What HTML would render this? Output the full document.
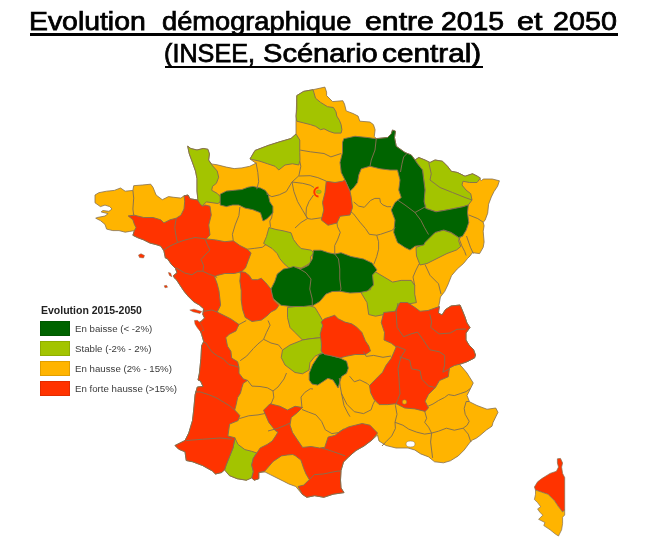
<!DOCTYPE html>
<html><head><meta charset="utf-8">
<style>
html,body{margin:0;padding:0;background:#fff;}
#wrap{position:absolute;left:0;top:0;width:646px;height:556px;filter:blur(0.35px);}
body{width:646px;height:556px;position:relative;overflow:hidden;font-family:"Liberation Sans",sans-serif;}
.w{position:absolute;font-weight:normal;font-size:25.1px;line-height:29px;color:#000;-webkit-text-stroke:0.75px #000;white-space:nowrap;transform-origin:0 50%;}
.t span{text-decoration:underline;text-decoration-thickness:2px;text-underline-offset:4px;display:inline-block;word-spacing:6.5px;transform:scaleX(1.11);transform-origin:50% 50%;}
svg{position:absolute;left:0;top:0;}
.lg{position:absolute;font-family:"Liberation Sans",sans-serif;color:#222;}
.lt{left:41px;top:304px;font-size:10.5px;font-weight:bold;}
.sw{position:absolute;left:40px;width:30px;height:15px;box-sizing:border-box;border:1px solid rgba(0,0,0,0.12);}
.lx{position:absolute;left:75px;font-size:9.7px;color:#3a3a3a;}
</style></head><body><div id="wrap">
<svg width="646" height="556" viewBox="0 0 646 556">
<polygon points="296.80,95.60 303.60,91.40 313.00,89.70 324.90,87.10 326.60,92.20 326.60,95.60 332.60,101.60 342.80,100.70 344.50,104.10 346.20,110.90 353.00,113.50 358.10,116.10 359.80,121.20 370.00,122.00 373.40,124.60 375.10,129.70 374.30,136.50 376.25,138.50 387.50,137.50 391.25,133.75 392.50,130.00 395.50,131.25 394.50,137.50 396.25,146.25 405.00,152.50 411.25,155.00 415.00,160.00 418.75,157.50 425.00,160.00 430.00,162.50 435.00,160.00 442.50,161.25 447.50,166.25 451.25,171.25 457.50,172.50 465.00,176.25 472.50,173.75 477.50,176.25 481.40,180.80 483.20,179.00 492.20,179.00 499.40,180.80 497.60,186.20 494.00,191.60 491.30,197.00 488.60,204.20 487.70,213.20 485.00,220.40 483.20,222.20 484.10,225.80 483.20,231.20 484.10,242.00 483.20,247.30 479.60,253.60 472.40,252.70 470.00,256.00 467.50,258.50 463.50,263.50 457.20,269.00 451.50,275.70 447.80,285.00 444.70,291.50 440.40,297.00 439.00,305.00 437.50,310.00 438.50,313.00 442.00,315.00 445.50,309.50 451.00,306.00 460.00,305.00 462.00,309.50 465.00,317.00 467.00,323.00 470.00,327.50 466.00,333.00 466.00,340.00 469.00,345.00 473.50,349.50 475.50,355.00 474.50,358.00 467.00,361.75 459.50,364.50 462.00,367.00 467.00,373.00 473.25,383.00 470.75,388.00 467.00,395.50 469.50,401.75 477.00,405.50 487.00,409.25 495.75,408.00 498.00,412.30 495.70,417.00 493.00,422.50 492.00,426.20 486.40,430.00 480.00,435.50 476.20,438.30 472.50,440.00 470.20,442.00 464.20,450.00 458.30,455.90 450.40,460.80 443.50,462.80 434.60,461.80 428.60,456.90 420.70,453.90 414.80,450.00 408.00,448.00 396.00,448.00 386.00,445.50 379.00,441.00 377.50,435.00 372.00,440.00 364.00,446.00 356.00,450.50 349.00,456.50 343.50,462.00 341.00,470.50 340.50,480.00 341.00,488.00 344.00,492.60 333.10,494.20 323.80,497.30 314.60,495.70 306.80,497.30 302.20,494.20 295.80,486.50 288.90,484.00 283.80,481.40 277.00,478.00 270.20,474.60 265.10,472.00 258.80,472.50 258.80,478.70 254.20,480.20 251.10,477.20 246.40,480.20 237.20,478.70 229.40,475.60 225.00,469.00 221.70,472.50 215.50,474.00 212.40,471.00 202.50,465.50 192.50,461.75 186.25,460.50 185.00,451.75 178.75,449.25 175.00,445.50 185.00,440.50 188.75,433.00 192.50,420.50 193.70,410.00 195.10,394.70 197.30,387.00 203.00,386.50 200.50,381.00 198.00,380.00 199.40,373.20 200.90,358.80 201.60,345.80 203.70,341.50 201.60,334.30 200.10,330.00 203.70,330.50 200.10,327.00 197.40,323.30 201.00,321.50 204.60,318.00 202.80,314.40 203.60,308.70 199.60,305.20 193.50,301.60 188.30,296.40 184.00,291.20 180.40,285.80 176.50,279.80 174.00,277.50 173.50,275.50 177.00,272.80 175.50,268.50 171.50,264.50 167.50,258.75 165.40,258.00 163.90,250.80 160.80,246.10 156.10,244.60 149.90,243.00 143.70,239.90 137.50,237.60 132.90,235.30 134.40,230.60 129.80,231.40 125.20,232.20 119.00,230.60 112.80,230.60 106.60,229.10 105.00,224.40 100.40,220.60 95.70,218.20 97.30,217.50 105.00,216.00 108.10,213.60 101.20,212.00 102.70,210.50 108.90,211.30 112.00,209.00 109.70,206.60 105.00,205.10 100.40,206.60 95.00,202.80 95.00,195.00 98.80,192.70 106.60,191.20 114.30,190.40 120.50,188.00 125.20,191.20 132.90,190.40 133.70,185.70 142.20,185.00 150.70,184.20 153.00,187.30 156.10,195.00 162.30,199.70 168.50,196.60 173.90,197.30 180.90,198.10 184.00,195.80 188.00,195.00 190.00,198.75 197.50,200.00 200.00,203.75 201.70,206.60 197.80,205.00 197.80,198.80 197.00,191.10 197.00,178.70 195.50,171.00 191.60,160.10 189.30,153.90 187.70,146.20 190.80,148.50 197.00,150.00 203.20,148.50 207.90,149.30 209.40,153.90 208.60,160.10 211.70,164.00 217.20,164.80 226.40,167.10 234.20,168.60 241.90,167.90 249.70,166.30 255.90,163.20 250.00,159.00 255.00,150.50 268.00,145.50 279.00,142.00 291.00,138.50 296.00,134.00 296.00,121.25" fill="#FFB400" stroke="#857050" stroke-width="0.8" stroke-linejoin="round"/>
<polygon points="296.80,95.60 303.60,91.40 313.00,89.70 313.80,92.20 315.50,98.20 320.60,102.40 327.50,106.70 333.40,107.50 336.00,111.80 336.80,116.10 339.40,120.30 341.10,124.60 341.90,129.70 341.10,133.10 334.30,133.10 329.20,131.40 324.00,128.80 320.60,129.70 315.50,126.30 310.40,124.60 303.60,122.90 296.80,121.20 296.00,116.10 296.80,109.20 296.80,102.40" fill="#A3C400" stroke="#857050" stroke-width="0.95" stroke-linejoin="round"/>
<polygon points="250.00,159.00 255.00,150.50 268.00,145.50 279.00,142.00 291.00,138.50 296.00,134.00 299.75,140.00 299.75,152.50 300.00,160.00 298.75,165.00 292.50,163.75 285.00,165.00 278.75,170.00 275.00,166.25 267.50,163.75 260.00,161.25" fill="#A3C400" stroke="#857050" stroke-width="0.95" stroke-linejoin="round"/>
<polygon points="187.70,146.20 190.80,148.50 197.00,150.00 203.20,148.50 207.90,149.30 209.40,153.90 208.60,160.10 211.70,164.80 217.20,171.00 218.70,177.20 216.40,183.30 212.50,186.40 211.70,190.30 217.20,193.40 221.00,197.30 220.20,201.90 217.90,203.50 206.30,201.90 201.70,206.60 197.80,205.00 197.80,198.80 197.00,191.10 197.00,178.70 195.50,171.00 191.60,160.10 189.30,153.90" fill="#A3C400" stroke="#857050" stroke-width="0.95" stroke-linejoin="round"/>
<polygon points="415.00,160.00 418.75,157.50 425.00,160.00 430.00,162.50 435.00,160.00 442.50,161.25 447.50,166.25 451.25,171.25 457.50,172.50 465.00,176.25 472.50,173.75 477.50,176.25 480.50,178.00 477.00,182.50 469.50,182.50 463.00,181.25 462.00,185.00 466.00,190.00 470.75,193.75 472.00,200.00 468.30,205.00 463.20,206.70 454.70,208.40 446.20,210.10 436.00,211.80 425.80,208.40 423.75,200.00 425.00,190.00 423.75,180.00 422.50,170.00 417.50,163.75" fill="#A3C400" stroke="#857050" stroke-width="0.95" stroke-linejoin="round"/>
<polygon points="416.00,247.50 423.75,244.50 425.50,240.00 430.00,236.00 436.00,232.00 443.00,230.00 450.50,232.50 458.00,237.00 460.75,236.50 458.50,240.50 460.75,246.50 456.50,250.00 447.00,253.50 436.00,259.00 427.00,263.50 420.00,265.00 416.50,256.00" fill="#A3C400" stroke="#857050" stroke-width="0.95" stroke-linejoin="round"/>
<polygon points="370.00,273.50 375.50,271.90 384.10,277.00 392.60,282.10 401.10,280.40 411.30,280.40 414.70,285.50 414.70,294.10 416.40,302.60 406.20,304.30 399.40,306.00 396.00,311.10 390.90,314.50 384.10,314.50 375.50,316.20 368.70,314.50 367.00,302.60 361.90,294.10 360.20,290.60 370.40,289.80 372.10,282.10" fill="#A3C400" stroke="#857050" stroke-width="0.95" stroke-linejoin="round"/>
<polygon points="287.50,307.50 297.50,306.25 307.50,305.00 315.00,307.50 318.75,313.75 323.75,322.50 321.25,330.00 322.50,337.50 310.00,338.75 302.50,340.00 295.00,332.50 290.00,327.50 287.50,317.50" fill="#A3C400" stroke="#857050" stroke-width="0.95" stroke-linejoin="round"/>
<polygon points="302.50,340.00 310.00,338.75 322.50,337.50 321.25,345.00 322.50,352.50 315.00,356.25 310.00,362.50 309.00,370.00 302.50,373.75 295.00,372.50 285.00,365.00 281.25,357.50 282.50,350.00 290.00,345.00" fill="#A3C400" stroke="#857050" stroke-width="0.95" stroke-linejoin="round"/>
<polygon points="234.70,437.70 238.10,444.50 244.90,449.60 251.70,451.30 256.80,453.00 253.40,458.10 251.70,464.90 253.40,471.70 251.70,478.00 246.40,480.20 237.20,478.70 229.40,475.60 224.50,470.00 226.20,464.90 229.60,456.40 233.00,447.90 234.70,439.40" fill="#A3C400" stroke="#857050" stroke-width="0.95" stroke-linejoin="round"/>
<polygon points="269.00,227.50 276.00,229.50 283.00,230.75 291.00,232.75 293.50,239.50 297.70,245.10 301.10,248.50 311.30,250.20 313.90,252.80 310.40,257.00 311.30,262.10 306.20,265.50 301.10,268.10 296.00,267.20 289.20,268.10 284.10,263.80 279.80,258.70 277.20,253.60 272.10,248.50 263.60,243.40 266.50,236.50" fill="#A3C400" stroke="#857050" stroke-width="0.95" stroke-linejoin="round"/>
<polygon points="343.75,138.75 355.00,136.25 367.50,137.50 376.25,138.75 387.50,137.50 391.25,133.75 392.50,130.00 395.50,131.25 394.50,137.50 396.25,146.25 405.00,152.50 411.25,155.00 415.00,160.00 417.50,163.75 422.50,170.00 423.75,180.00 425.00,190.00 424.10,201.60 425.80,208.40 436.00,211.80 446.20,210.10 454.70,208.40 463.20,206.70 468.30,205.00 467.50,212.50 468.75,222.50 466.25,230.00 462.50,236.25 458.75,237.50 451.25,232.50 443.75,230.00 435.00,232.50 430.00,237.50 425.00,242.50 423.75,245.00 415.00,246.25 410.00,250.00 405.00,247.50 397.50,242.50 393.75,232.50 395.00,220.00 391.25,210.00 395.00,202.50 401.25,197.50 398.75,190.00 400.00,180.00 397.50,170.00 390.00,170.00 380.00,168.75 370.00,166.25 361.25,168.75 358.75,175.00 357.50,182.50 353.75,187.50 350.00,191.25 345.00,180.00 341.25,172.50 340.00,162.50 342.50,152.50 342.50,142.50" fill="#006400" stroke="#857050" stroke-width="0.95" stroke-linejoin="round"/>
<polygon points="220.20,194.20 226.40,191.10 234.20,190.30 241.90,189.50 248.10,187.20 252.80,186.40 260.50,188.00 265.10,190.30 268.20,194.20 269.80,201.90 272.90,206.60 272.90,212.80 269.80,215.90 266.70,219.00 263.00,221.00 261.50,216.00 260.50,212.80 252.80,209.70 245.00,208.10 238.80,205.00 232.60,205.00 226.40,206.60 220.20,205.00" fill="#006400" stroke="#857050" stroke-width="0.95" stroke-linejoin="round"/>
<polygon points="293.50,266.50 299.75,269.00 303.50,267.75 308.50,265.25 312.25,259.00 313.50,250.25 321.00,250.25 328.50,252.75 334.75,254.00 341.00,252.75 351.00,256.50 363.50,259.00 372.00,263.00 377.00,270.00 372.50,275.00 373.50,285.00 367.50,291.00 360.00,292.50 350.00,293.00 340.00,291.25 332.25,291.50 326.00,294.00 319.75,301.50 313.50,305.25 303.50,306.50 291.00,306.50 281.00,305.25 272.25,297.75 271.00,289.00 274.75,281.50 277.25,274.00 283.50,269.00 289.75,267.75" fill="#006400" stroke="#857050" stroke-width="0.95" stroke-linejoin="round"/>
<polygon points="316.00,359.60 319.40,354.50 324.50,352.80 333.00,356.20 339.80,357.90 346.60,361.30 348.30,368.10 346.60,373.20 341.50,376.60 339.80,381.70 338.10,388.00 333.00,380.00 327.90,378.30 322.80,381.70 317.70,385.10 312.00,384.00 309.20,380.00 309.20,373.20 312.60,364.70" fill="#006400" stroke="#857050" stroke-width="0.95" stroke-linejoin="round"/>
<polygon points="128.20,215.90 134.40,215.20 143.70,217.50 153.00,217.50 160.80,219.80 163.90,222.90 170.00,219.80 176.20,218.20 180.90,215.20 184.00,209.00 184.70,201.20 184.00,195.80 188.00,195.00 190.00,198.75 197.50,200.00 200.00,203.75 202.50,206.25 205.00,205.00 210.00,206.25 211.25,215.00 208.75,225.00 210.00,235.00 206.20,238.90 215.60,239.90 224.90,241.70 233.30,240.80 239.90,245.50 247.30,249.20 251.10,252.90 248.30,260.40 245.50,267.90 241.70,271.60 234.30,273.50 224.90,273.50 217.40,275.40 214.50,276.60 217.20,283.80 219.00,291.00 220.60,305.30 217.20,312.10 224.10,315.50 230.90,318.90 236.00,322.40 239.00,324.50 237.50,327.50 236.00,330.90 229.20,334.30 225.80,337.70 227.50,346.20 230.90,351.30 231.70,358.10 237.60,361.70 239.00,367.40 239.00,373.20 243.30,378.90 247.60,380.40 243.30,383.20 241.90,387.60 240.40,393.30 237.60,397.60 236.10,404.80 234.70,410.00 239.80,415.50 238.10,420.60 229.60,424.10 227.90,436.00 234.70,437.70 234.70,439.40 233.00,447.90 229.60,456.40 226.20,464.90 224.50,470.00 221.70,472.50 215.50,474.00 212.40,471.00 202.50,465.50 192.50,461.75 186.25,460.50 185.00,451.75 178.75,449.25 175.00,445.50 185.00,440.50 188.75,433.00 192.50,420.50 193.70,410.00 195.10,394.70 197.30,387.00 203.00,386.50 200.50,381.00 198.00,380.00 199.40,373.20 200.90,358.80 201.60,345.80 203.70,341.50 201.60,334.30 200.10,330.00 203.70,330.50 200.10,327.00 197.40,323.30 201.00,321.50 204.60,318.00 202.80,314.40 203.60,308.70 199.60,305.20 193.50,301.60 188.30,296.40 184.00,291.20 180.40,285.80 176.50,279.80 174.00,277.50 173.50,275.50 177.00,272.80 175.50,268.50 171.50,264.50 167.50,258.75 165.40,258.00 163.90,250.80 160.80,246.10 156.10,244.60 149.90,243.00 143.70,239.90 137.50,237.60 132.90,235.30 134.40,230.60 136.00,227.50 134.40,224.40 132.90,219.80" fill="#FF3300" stroke="#857050" stroke-width="0.95" stroke-linejoin="round"/>
<polygon points="239.80,271.60 245.20,272.30 249.30,275.60 252.00,279.70 257.40,279.70 261.40,278.30 265.50,282.40 270.90,289.10 272.20,294.50 273.60,299.90 278.90,305.30 276.20,309.30 270.90,312.00 266.80,316.10 261.40,320.10 252.00,321.50 245.20,317.40 242.50,309.30 241.20,299.90 241.20,290.50 239.80,281.00 240.50,274.30" fill="#FF3300" stroke="#857050" stroke-width="0.95" stroke-linejoin="round"/>
<polygon points="326.25,181.25 335.00,182.50 342.50,181.25 345.00,180.00 350.00,191.25 351.25,197.50 352.50,207.50 350.00,215.00 340.00,216.25 337.00,223.00 328.00,225.25 321.25,220.00 323.75,210.00 322.50,202.50 325.00,192.50" fill="#FF3300" stroke="#857050" stroke-width="0.95" stroke-linejoin="round"/>
<polygon points="383.75,312.50 395.00,311.25 400.00,302.50 407.50,302.50 415.00,307.50 420.00,311.25 428.00,310.50 435.00,308.00 439.50,306.50 438.50,313.00 442.00,315.00 445.50,309.50 451.00,306.00 460.00,305.00 462.00,309.50 465.00,317.00 467.00,323.00 470.00,327.50 466.00,333.00 466.00,340.00 469.00,345.00 473.50,349.50 475.50,355.00 474.50,358.00 467.00,361.75 459.50,364.25 454.50,365.50 449.50,368.00 448.25,376.75 439.50,380.50 435.40,387.60 428.50,394.40 425.10,401.20 428.50,408.00 425.10,411.40 414.90,408.90 404.70,408.00 396.20,403.70 387.70,404.60 379.20,404.60 374.10,399.50 370.60,392.70 369.50,385.50 375.80,379.10 382.60,372.20 386.00,365.40 391.10,358.60 394.00,352.00 396.10,347.00 391.40,343.30 384.00,340.00 384.50,332.50 381.25,322.50" fill="#FF3300" stroke="#857050" stroke-width="0.95" stroke-linejoin="round"/>
<polygon points="321.10,322.10 324.50,318.70 329.60,317.00 334.70,315.30 338.10,318.70 344.90,322.10 351.70,323.80 356.80,327.20 361.90,332.40 365.40,340.90 368.80,346.00 370.50,351.10 365.40,354.50 355.10,354.50 346.60,356.20 339.80,357.90 333.00,356.20 324.50,354.50 321.10,351.10 321.50,345.00 321.10,340.90 320.20,334.10 322.80,325.50" fill="#FF3300" stroke="#857050" stroke-width="0.95" stroke-linejoin="round"/>
<polygon points="263.75,410.00 270.00,403.75 280.00,406.25 287.50,410.00 295.00,406.25 302.50,407.50 297.50,412.50 291.25,417.50 290.00,425.00 292.50,432.50 297.50,440.00 302.60,447.40 311.10,446.50 319.60,448.00 324.70,447.40 328.10,437.10 334.90,435.40 341.70,430.30 348.50,426.90 355.40,425.20 362.20,423.50 370.00,425.20 377.50,433.00 372.00,440.00 364.00,446.00 356.00,450.50 349.00,456.50 343.50,462.00 341.00,470.50 340.50,480.00 341.00,488.00 344.00,492.60 333.10,494.20 323.80,497.30 314.60,495.70 306.80,497.30 302.20,494.20 298.00,486.50 303.70,485.10 309.30,479.60 306.00,474.00 303.70,468.40 300.90,460.10 295.00,455.50 292.60,454.50 287.20,455.00 281.40,455.90 273.10,461.50 264.70,471.20 258.80,472.50 258.80,478.70 254.20,480.20 251.70,478.00 253.40,471.70 251.70,464.90 253.40,458.10 256.80,453.00 260.20,447.90 267.10,444.50 272.20,441.10 275.60,436.00 278.00,432.00 275.60,430.90 268.80,422.40 263.60,410.40" fill="#FF3300" stroke="#857050" stroke-width="0.95" stroke-linejoin="round"/>
<polyline points="300.20,150.10 310.40,151.80 324.00,153.50 330.90,156.90 341.10,153.50" fill="none" stroke="#857050" stroke-width="0.95" stroke-linejoin="round"/>
<polyline points="298.90,176.00 310.20,175.70 317.80,177.60 326.00,181.00" fill="none" stroke="#857050" stroke-width="0.95" stroke-linejoin="round"/>
<polyline points="299.80,161.20 300.80,166.30 298.90,175.70 292.00,182.00" fill="none" stroke="#857050" stroke-width="0.95" stroke-linejoin="round"/>
<polyline points="256.00,162.50 257.80,172.40 258.70,181.70 256.80,189.20" fill="none" stroke="#857050" stroke-width="0.95" stroke-linejoin="round"/>
<polyline points="266.25,193.75 271.80,196.70 279.30,194.80 286.30,191.50 292.00,182.00" fill="none" stroke="#857050" stroke-width="0.95" stroke-linejoin="round"/>
<polyline points="292.00,182.00 293.90,191.50 297.60,201.60 302.70,210.40 307.50,218.50" fill="none" stroke="#857050" stroke-width="0.95" stroke-linejoin="round"/>
<polyline points="292.00,182.00 302.70,183.30 310.20,185.20 314.00,187.50" fill="none" stroke="#857050" stroke-width="0.95" stroke-linejoin="round"/>
<polyline points="313.50,195.00 309.00,201.60 306.40,207.90 306.00,215.40 307.50,218.50" fill="none" stroke="#857050" stroke-width="0.95" stroke-linejoin="round"/>
<polyline points="307.50,218.50 311.50,219.20 320.30,217.90 322.00,218.00" fill="none" stroke="#857050" stroke-width="0.95" stroke-linejoin="round"/>
<polyline points="307.50,218.50 301.00,222.50 295.00,228.00" fill="none" stroke="#857050" stroke-width="0.95" stroke-linejoin="round"/>
<polyline points="272.50,212.50 271.60,218.00 269.80,221.00 270.50,226.80" fill="none" stroke="#857050" stroke-width="0.95" stroke-linejoin="round"/>
<polyline points="239.90,207.00 238.90,215.60 235.20,224.90 232.40,234.30 233.30,240.80" fill="none" stroke="#857050" stroke-width="0.95" stroke-linejoin="round"/>
<polyline points="247.30,249.20 254.80,248.30 262.30,247.30 266.00,244.50" fill="none" stroke="#857050" stroke-width="0.95" stroke-linejoin="round"/>
<polyline points="132.90,190.40 133.70,198.10 132.90,209.00 133.70,215.20" fill="none" stroke="#857050" stroke-width="0.95" stroke-linejoin="round"/>
<polyline points="176.20,218.20 174.70,227.50 176.20,237.00 177.50,242.50" fill="none" stroke="#857050" stroke-width="0.95" stroke-linejoin="round"/>
<polyline points="205.00,238.75 195.00,237.50 185.00,240.00 177.50,242.50" fill="none" stroke="#857050" stroke-width="0.95" stroke-linejoin="round"/>
<polyline points="177.50,242.50 170.00,246.00 163.75,250.00" fill="none" stroke="#857050" stroke-width="0.95" stroke-linejoin="round"/>
<polyline points="205.00,238.75 207.50,245.00 210.00,250.00 205.00,255.00 201.00,259.50 203.70,265.80 202.80,271.20" fill="none" stroke="#857050" stroke-width="0.95" stroke-linejoin="round"/>
<polyline points="175.80,267.60 184.80,273.00 192.00,274.80 197.40,271.20 202.80,271.20" fill="none" stroke="#857050" stroke-width="0.95" stroke-linejoin="round"/>
<polyline points="202.80,271.20 208.20,273.90 213.60,275.70 217.20,277.50" fill="none" stroke="#857050" stroke-width="0.95" stroke-linejoin="round"/>
<polyline points="203.60,311.30 211.80,310.00 217.20,312.10" fill="none" stroke="#857050" stroke-width="0.95" stroke-linejoin="round"/>
<polyline points="203.70,342.00 205.90,343.00 211.70,351.60 217.40,355.90 223.20,358.80 228.90,364.50 234.70,366.00 239.00,367.40" fill="none" stroke="#857050" stroke-width="0.95" stroke-linejoin="round"/>
<polyline points="195.00,392.00 200.10,391.90 208.80,394.70 216.00,397.60 223.20,401.90 230.40,406.30 234.70,410.00" fill="none" stroke="#857050" stroke-width="0.95" stroke-linejoin="round"/>
<polyline points="186.25,440.50 202.50,439.25 220.00,438.00 232.50,439.25" fill="none" stroke="#857050" stroke-width="0.95" stroke-linejoin="round"/>
<polyline points="239.00,324.50 246.20,320.60" fill="none" stroke="#857050" stroke-width="0.95" stroke-linejoin="round"/>
<polyline points="322.00,448.00 333.20,451.60 345.10,455.90" fill="none" stroke="#857050" stroke-width="0.95" stroke-linejoin="round"/>
<polyline points="309.30,479.60 314.50,474.60 323.20,474.00 337.10,471.20 341.00,471.00" fill="none" stroke="#857050" stroke-width="0.95" stroke-linejoin="round"/>
<polyline points="268.00,431.00 277.00,428.60 285.50,425.20 290.00,423.00" fill="none" stroke="#857050" stroke-width="0.95" stroke-linejoin="round"/>
<polyline points="268.00,320.50 270.10,325.20 266.40,332.70 263.60,339.30 258.00,343.90 253.30,348.60 246.70,356.10 240.20,360.70" fill="none" stroke="#857050" stroke-width="0.95" stroke-linejoin="round"/>
<polyline points="263.60,339.30 271.00,343.00 278.50,344.90 282.20,349.50" fill="none" stroke="#857050" stroke-width="0.95" stroke-linejoin="round"/>
<polyline points="247.60,380.40 251.90,386.10 260.00,386.50 267.40,387.80 273.00,391.00 278.00,387.00 284.00,379.00 286.50,373.00" fill="none" stroke="#857050" stroke-width="0.95" stroke-linejoin="round"/>
<polyline points="273.00,391.00 273.80,397.20 271.00,404.00" fill="none" stroke="#857050" stroke-width="0.95" stroke-linejoin="round"/>
<polyline points="239.30,418.60 248.70,415.80 258.00,414.90 265.00,413.50" fill="none" stroke="#857050" stroke-width="0.95" stroke-linejoin="round"/>
<polyline points="302.00,408.00 301.00,397.10 304.80,392.40 310.40,388.70 313.00,389.00" fill="none" stroke="#857050" stroke-width="0.95" stroke-linejoin="round"/>
<polyline points="302.00,409.50 308.50,412.10 316.00,414.90 321.60,421.40 325.30,429.80 331.90,433.60 338.40,432.60 344.00,428.90" fill="none" stroke="#857050" stroke-width="0.95" stroke-linejoin="round"/>
<polyline points="339.30,378.00 340.30,386.80 342.10,396.20 344.00,405.50 347.80,413.00 350.00,416.70" fill="none" stroke="#857050" stroke-width="0.95" stroke-linejoin="round"/>
<polyline points="349.60,376.20 354.30,381.80 359.90,379.90 367.40,383.60 369.30,385.50" fill="none" stroke="#857050" stroke-width="0.95" stroke-linejoin="round"/>
<polyline points="341.20,393.00 346.80,404.20 354.30,411.70 363.60,413.60 371.10,409.80 373.00,404.20 374.90,400.50" fill="none" stroke="#857050" stroke-width="0.95" stroke-linejoin="round"/>
<polyline points="395.40,405.50 397.00,414.30 395.00,422.30 395.40,428.50 391.70,436.00 386.10,441.60 382.00,446.00" fill="none" stroke="#857050" stroke-width="0.95" stroke-linejoin="round"/>
<polyline points="395.00,422.30 402.90,425.20 408.80,429.20 416.80,432.20 424.70,434.10 431.60,433.10" fill="none" stroke="#857050" stroke-width="0.95" stroke-linejoin="round"/>
<polyline points="424.70,411.40 426.70,418.30 424.70,422.30 428.60,427.20 431.60,433.10" fill="none" stroke="#857050" stroke-width="0.95" stroke-linejoin="round"/>
<polyline points="431.60,433.10 430.60,442.00 431.60,450.00 432.60,457.90" fill="none" stroke="#857050" stroke-width="0.95" stroke-linejoin="round"/>
<polyline points="463.20,428.20 454.30,430.20 446.40,428.20 438.50,431.20 431.60,433.10" fill="none" stroke="#857050" stroke-width="0.95" stroke-linejoin="round"/>
<polyline points="469.20,401.50 466.20,401.50 464.20,408.40 465.20,414.30 469.20,421.30 467.20,425.20 463.20,428.20" fill="none" stroke="#857050" stroke-width="0.95" stroke-linejoin="round"/>
<polyline points="463.20,428.20 468.20,434.10 470.20,440.10 471.00,442.00" fill="none" stroke="#857050" stroke-width="0.95" stroke-linejoin="round"/>
<polyline points="427.60,406.40 433.00,404.00 438.50,400.50 444.50,397.50 448.40,394.60 454.30,395.60 460.30,393.60 466.20,391.60 470.20,388.60" fill="none" stroke="#857050" stroke-width="0.95" stroke-linejoin="round"/>
<polyline points="398.00,303.00 396.10,312.40 397.10,327.40 403.60,336.70" fill="none" stroke="#857050" stroke-width="0.95" stroke-linejoin="round"/>
<polyline points="403.60,336.70 411.10,333.90 417.60,332.10 422.30,338.60 426.00,344.20 429.80,349.80" fill="none" stroke="#857050" stroke-width="0.95" stroke-linejoin="round"/>
<polyline points="429.80,314.30 431.60,321.80 430.70,327.40" fill="none" stroke="#857050" stroke-width="0.95" stroke-linejoin="round"/>
<polyline points="430.70,327.40 439.10,333.90 450.30,333.00 456.90,329.30 466.00,329.00" fill="none" stroke="#857050" stroke-width="0.95" stroke-linejoin="round"/>
<polyline points="429.80,349.80 439.10,351.70 444.70,355.40 444.70,364.80 442.90,372.20 449.00,369.00" fill="none" stroke="#857050" stroke-width="0.95" stroke-linejoin="round"/>
<polyline points="399.60,356.90 409.80,360.30 411.50,368.80 420.00,370.50 421.70,379.10 428.50,385.90 435.40,387.60" fill="none" stroke="#857050" stroke-width="0.95" stroke-linejoin="round"/>
<polyline points="400.80,357.30 398.00,368.50 398.90,377.90 400.00,394.00 395.40,405.50" fill="none" stroke="#857050" stroke-width="0.95" stroke-linejoin="round"/>
<polyline points="396.10,346.10 405.50,349.80 400.80,357.30" fill="none" stroke="#857050" stroke-width="0.95" stroke-linejoin="round"/>
<polyline points="363.50,351.50 366.20,356.40 373.70,355.40 383.00,357.30 391.00,356.00" fill="none" stroke="#857050" stroke-width="0.95" stroke-linejoin="round"/>
<polyline points="353.80,202.00 358.70,206.10 364.30,207.30 370.50,200.50 374.80,198.40 379.80,198.40 380.40,202.40 382.90,204.90 387.20,206.70 391.00,206.70" fill="none" stroke="#857050" stroke-width="0.95" stroke-linejoin="round"/>
<polyline points="351.00,212.00 353.40,213.70 359.90,222.10 365.50,228.60 369.30,234.30 376.70,235.20" fill="none" stroke="#857050" stroke-width="0.95" stroke-linejoin="round"/>
<polyline points="376.70,235.20 380.50,234.30 386.10,232.40 391.70,230.50 395.40,227.70" fill="none" stroke="#857050" stroke-width="0.95" stroke-linejoin="round"/>
<polyline points="337.00,223.00 337.50,226.80 340.30,232.40 337.50,239.90 334.70,245.50 334.75,254.00" fill="none" stroke="#857050" stroke-width="0.95" stroke-linejoin="round"/>
<polyline points="376.70,235.20 378.60,241.70 378.60,249.20 376.70,256.70 373.90,264.20" fill="none" stroke="#857050" stroke-width="0.95" stroke-linejoin="round"/>
<polyline points="419.00,264.00 416.00,270.00 413.00,277.00 414.70,285.50" fill="none" stroke="#857050" stroke-width="0.95" stroke-linejoin="round"/>
<polyline points="425.00,264.50 430.00,275.30 438.50,283.80 441.00,294.00" fill="none" stroke="#857050" stroke-width="0.95" stroke-linejoin="round"/>
<polyline points="468.80,215.00 477.80,218.60 483.20,222.20" fill="none" stroke="#857050" stroke-width="0.95" stroke-linejoin="round"/>
<polyline points="458.90,238.00 461.80,245.80 464.70,251.50 466.10,255.50" fill="none" stroke="#857050" stroke-width="0.95" stroke-linejoin="round"/>
<polyline points="466.50,236.00 470.40,247.20 473.30,253.50" fill="none" stroke="#857050" stroke-width="0.95" stroke-linejoin="round"/>
<polyline points="428.75,162.50 431.25,173.75 430.00,180.00 440.00,187.50 452.50,192.50 465.00,197.50 472.00,200.00" fill="none" stroke="#857050" stroke-width="0.95" stroke-linejoin="round"/>
<polyline points="376.25,138.75 375.00,150.00 371.25,160.00 370.00,166.25" fill="none" stroke="#857050" stroke-width="0.95" stroke-linejoin="round"/>
<polyline points="407.00,153.50 403.60,157.00 401.90,164.20 400.50,172.00" fill="none" stroke="#857050" stroke-width="0.95" stroke-linejoin="round"/>
<polyline points="397.50,200.00 405.00,205.00 415.00,212.50 426.25,206.25" fill="none" stroke="#857050" stroke-width="0.95" stroke-linejoin="round"/>
<polyline points="415.00,212.50 420.90,220.40 424.30,227.20 428.50,234.50" fill="none" stroke="#857050" stroke-width="0.95" stroke-linejoin="round"/>
<polyline points="299.75,269.00 306.00,272.75 311.00,279.00 309.75,289.00 312.25,299.00 312.25,305.25" fill="none" stroke="#857050" stroke-width="0.95" stroke-linejoin="round"/>
<polyline points="334.75,254.00 338.50,259.00 339.75,269.00 339.75,279.00 341.00,289.00 340.00,291.25" fill="none" stroke="#857050" stroke-width="0.95" stroke-linejoin="round"/>
<polygon points="138.50,255.00 141.00,253.70 144.50,255.50 143.50,258.00 139.50,257.50" fill="#FF3300" stroke="#857050" stroke-width="0.5"/>
<polygon points="168.40,272.50 170.50,273.00 171.90,276.70 169.50,275.50" fill="#FF3300" stroke="#857050" stroke-width="0.5"/>
<polygon points="164.20,285.80 166.50,285.30 167.60,287.20 165.00,287.80" fill="#FF3300" stroke="#857050" stroke-width="0.5"/>
<polygon points="189.80,310.00 194.00,309.20 201.80,311.50 200.00,313.50 193.00,311.80" fill="#FF3300" stroke="#857050" stroke-width="0.5"/>
<polygon points="194.50,320.50 197.50,320.30 201.00,324.00 203.50,329.00 201.00,332.30 197.50,328.00 195.00,324.00" fill="#FF3300" stroke="#857050" stroke-width="0.5"/>
<polygon points="557.40,458.80 560.50,458.40 562.60,463.00 561.60,467.10 562.60,473.40 564.70,477.60 564.70,480.00 564.70,510.00 562.60,512.00 558.50,506.80 554.30,500.50 548.00,494.30 541.80,492.20 535.50,490.10 534.40,487.00 537.60,481.80 541.80,478.60 550.10,473.40 556.40,471.30 558.50,467.10 557.40,463.00" fill="#FF3300" stroke="#857050" stroke-width="0.7"/>
<polygon points="535.50,490.10 541.80,492.20 548.00,494.30 554.30,500.50 558.50,506.80 562.60,512.00 564.70,510.00 564.70,515.00 562.60,517.20 562.60,523.50 561.60,529.80 558.50,536.00 555.30,534.00 550.10,529.80 543.80,525.60 544.90,522.50 538.60,519.30 542.80,515.20 539.70,512.00 537.60,508.90 540.70,506.80 537.60,502.60 534.40,499.50 535.50,494.30" fill="#FFB400" stroke="#857050" stroke-width="0.7"/>
<ellipse cx="404.5" cy="402" rx="2.3" ry="2.3" fill="#FFB400" stroke="#857050" stroke-width="0.5"/>
<ellipse cx="410.5" cy="444" rx="4.5" ry="3" fill="#fff" stroke="#857050" stroke-width="0.5"/>
<path d="M318.5,187.5 A4.2,4.5 0 1 0 318.5,196.5" fill="none" stroke="#FF3300" stroke-width="2"/>
<ellipse cx="318.8" cy="191.8" rx="2.6" ry="1.8" fill="#A3C400" stroke="#857050" stroke-width="0.4"/>
</svg>
<div class="w" style="left:28.80px;top:6.8px;transform:scaleX(1.1305)">Evolution</div><div class="w" style="left:162.49px;top:6.8px;transform:scaleX(1.0854)">démographique</div><div class="w" style="left:365.21px;top:6.8px;transform:scaleX(1.2048)">entre</div><div class="w" style="left:441.45px;top:6.8px;transform:scaleX(1.1311)">2015</div><div class="w" style="left:517.04px;top:6.8px;transform:scaleX(1.2154)">et</div><div class="w" style="left:553.45px;top:6.8px;transform:scaleX(1.1443)">2050</div><div class="w" style="left:164.36px;top:39.3px;transform:scaleX(1.0040)">(INSEE,</div><div class="w" style="left:262.78px;top:39.3px;transform:scaleX(1.1587)">Scénario</div><div class="w" style="left:382.41px;top:39.3px;transform:scaleX(1.1861)">central)</div><div style="position:absolute;left:29.5px;width:588.5px;top:33px;height:2.5px;background:#000"></div><div style="position:absolute;left:164.5px;width:318.5px;top:65.8px;height:2.5px;background:#000"></div>
<div class="lg lt">Evolution 2015-2050</div>
<div class="sw" style="top:321px;background:#006400"></div>
<div class="sw" style="top:341px;background:#A3C400"></div>
<div class="sw" style="top:361px;background:#FFB400"></div>
<div class="sw" style="top:381px;background:#FF3300"></div>
<div class="lx" style="top:323px">En baisse (&lt; -2%)</div>
<div class="lx" style="top:343px">Stable (-2% - 2%)</div>
<div class="lx" style="top:363px">En hausse (2% - 15%)</div>
<div class="lx" style="top:383px">En forte hausse (&gt;15%)</div>
</div></body></html>
